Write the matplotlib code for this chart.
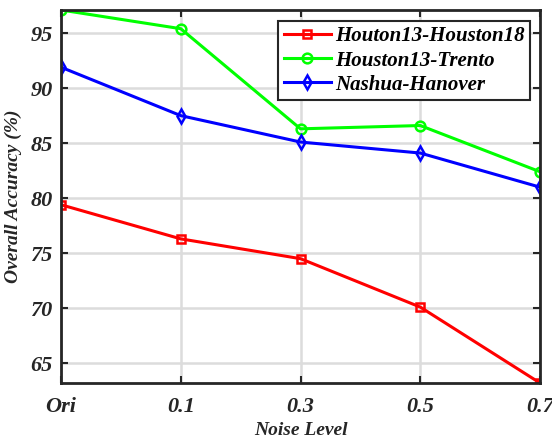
import matplotlib
matplotlib.use('Agg')
import matplotlib.pyplot as plt
import numpy as np

levels = ['Ori', '0.1', '0.3', '0.5', '0.7']
houston13_18 = [79.4, 76.3, 74.5, 70.1, 63.2]
houston13_trento = [97.1, 95.4, 86.3, 86.6, 82.4]
nashua_hanover = [91.9, 87.5, 85.1, 84.1, 81.0]

plt.rcParams['font.family'] = 'Liberation Serif'
plt.rcParams['font.weight'] = 'bold'
plt.rcParams['font.style'] = 'italic'
plt.rcParams['axes.labelweight'] = 'bold'

fig = plt.figure(figsize=(5.52, 4.41), dpi=100)
ax = fig.add_axes([61/552, 1 - 383/441, (540-61)/552, (383-10)/441])

x = np.arange(1, len(levels) + 1)
ax.plot(x, houston13_18, '-s', color='red', lw=2.2, ms=6, mfc='none', mew=1.8,
        label='Houton13-Houston18')
ax.plot(x, houston13_trento, '-o', color='#00ff00', lw=2.2, ms=7, mfc='none', mew=1.8,
        label='Houston13-Trento')
ax.plot(x, nashua_hanover, '-d', color='blue', lw=2.2, ms=7, mfc='none', mew=1.8,
        label='Nashua-Hanover')

ax.set_xlim(1, 5)
ax.set_ylim(63.2, 97.1)
ax.set_xticks(x)
ax.set_xticklabels(levels)
ax.set_yticks([65, 70, 75, 80, 85, 90, 95])
ax.grid(True, color='#dcdcdc', lw=1.8)
ax.set_axisbelow(True)
for s in ax.spines.values():
    s.set_linewidth(2)
    s.set_color('#262626')
ax.tick_params(direction='in', top=True, right=True, length=5, width=1.5,
               color='#262626', labelsize=16, labelcolor='#262626')
ax.tick_params(axis='x', pad=10)
ax.tick_params(axis='y', pad=6)
ax.set_xlabel('Noise Level', fontsize=14, color='#262626', labelpad=4)
ax.set_ylabel('Overall Accuracy (%)', fontsize=14, color='#262626', labelpad=6)

leg = ax.legend(loc='upper right', fontsize=15, frameon=True, fancybox=False,
                borderpad=0.25, labelspacing=0.2, handlelength=2.3, handletextpad=0.2,
                borderaxespad=0, bbox_to_anchor=(0.98, 0.97))
leg.get_frame().set_edgecolor('#262626')
leg.get_frame().set_linewidth(1.5)
leg.get_frame().set_alpha(1)

fig.savefig('out.png', dpi=100)
